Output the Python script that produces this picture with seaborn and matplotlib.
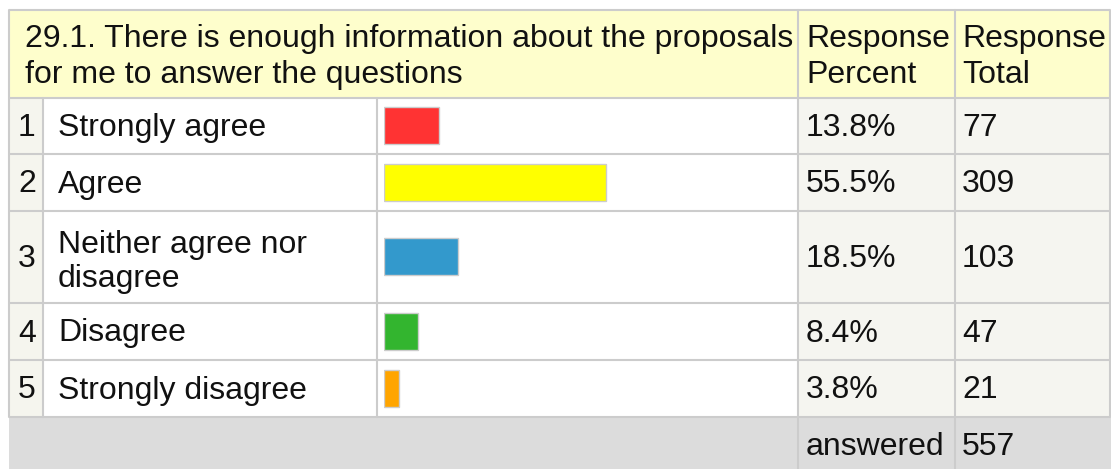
import matplotlib
matplotlib.use("Agg")
import matplotlib.pyplot as plt
from matplotlib.patches import Rectangle
import seaborn as sns
import pandas as pd

# ---------------- data ----------------
question_lines = ["29.1. There is enough information about the proposals",
                  "for me to answer the questions"]
percent_header = ["Response", "Percent"]
total_header = ["Response", "Total"]
row_numbers = ["1", "2", "3", "4", "5"]
categories = ["Strongly agree", "Agree", "Neither agree nor disagree",
              "Disagree", "Strongly disagree"]
label_lines = [["Strongly agree"], ["Agree"], ["Neither agree nor", "disagree"],
               ["Disagree"], ["Strongly disagree"]]
response_percent = [13.8, 55.5, 18.5, 8.4, 3.8]
response_total = [77, 309, 103, 47, 21]
answered_label = "answered"
answered_total = 557
bar_colors = ["#ff3333", "#ffff00", "#3399cc", "#33b52f", "#ffa500"]

# ---------------- layout (pixels) ----------------
W, H = 1111, 469
X_LEFT, X_NUM, X_LAB, X_PCT, X_TOT, X_RIGHT = 9, 43, 377, 798, 955, 1110
Y_EDGES = [10, 98, 154, 211, 303, 360, 417, 473]
BAR_X0, BAR_SPAN = 384, 400   # 0..100 %
LINE_C = "#cccccc"
LW = 1.5
TXT_C = "#111111"
FS = 23

sns.set_style("white")
plt.rcParams["font.family"] = ["Liberation Sans", "DejaVu Sans"]

fig = plt.figure(figsize=(W / 100, H / 100), dpi=100)
ax = fig.add_axes([0, 0, 1, 1])
ax.set_xlim(0, W)
ax.set_ylim(H, 0)
ax.axis("off")

def rect(x0, y0, x1, y1, color):
    ax.add_patch(Rectangle((x0, y0), x1 - x0, y1 - y0, facecolor=color,
                           edgecolor="none", zorder=0))

# backgrounds
rect(X_LEFT, Y_EDGES[0], X_RIGHT, Y_EDGES[1], "#fefecc")
for i in range(len(categories)):
    y0, y1 = Y_EDGES[i + 1], Y_EDGES[i + 2]
    rect(X_LEFT, y0, X_NUM, y1, "#f5f5ee")
    rect(X_NUM, y0, X_PCT, y1, "#ffffff")
    rect(X_PCT, y0, X_RIGHT, y1, "#f5f5f0")
rect(X_LEFT, Y_EDGES[6], W, H, "#dcdcdc")

# grid lines
for y in Y_EDGES[:7]:
    ax.plot([X_LEFT, X_RIGHT], [y, y], color=LINE_C, lw=LW, zorder=1,
            solid_capstyle="butt")
ax.plot([X_LEFT, X_LEFT], [Y_EDGES[0], Y_EDGES[6]], color=LINE_C, lw=LW, zorder=1)
ax.plot([X_RIGHT, X_RIGHT], [Y_EDGES[0], Y_EDGES[6]], color=LINE_C, lw=LW, zorder=1)
for x in (X_NUM, X_LAB):
    ax.plot([x, x], [Y_EDGES[1], Y_EDGES[6]], color=LINE_C, lw=LW, zorder=1)
for x in (X_PCT, X_TOT):
    ax.plot([x, x], [Y_EDGES[0], H], color=LINE_C, lw=LW, zorder=1)

def txt(x, y, s, ha="left"):
    ax.text(x, y, s, fontsize=FS, color=TXT_C, ha=ha, va="baseline", zorder=3)

# header
txt(25, 47, question_lines[0])
txt(25, 83, question_lines[1])
txt(806, 47, percent_header[0])
txt(806, 83, percent_header[1])
txt(962, 47, total_header[0])
txt(962, 83, total_header[1])

# rows
row_centers = [(Y_EDGES[i + 1] + Y_EDGES[i + 2]) / 2 for i in range(len(categories))]
for i, yc in enumerate(row_centers):
    base = yc + 10
    txt(27, base, row_numbers[i], ha="center")
    lines = label_lines[i]
    if len(lines) == 1:
        txt(58, base, lines[0])
    else:
        txt(58, yc - 4, lines[0])
        txt(58, yc + 30, lines[1])
    txt(806, base, f"{response_percent[i]:.1f}%")
    txt(962, base, str(response_total[i]))

# footer
txt(806, 455, answered_label)
txt(962, 455, str(answered_total))

# bars via seaborn
bax = fig.add_axes([BAR_X0 / W, (H - Y_EDGES[6]) / H, BAR_SPAN / W,
                    (Y_EDGES[6] - Y_EDGES[1]) / H])
df = pd.DataFrame({"category": categories, "percent": response_percent,
                   "ycenter": row_centers})
sns.barplot(data=df, x="percent", y="ycenter", hue="category",
            hue_order=categories, palette=dict(zip(categories, bar_colors)),
            orient="h", native_scale=True, dodge=False, width=37 / 56.5,
            saturation=1, legend=False, edgecolor="#cccccc", linewidth=1,
            ax=bax)
bax.set_xlim(0, 100)
bax.set_ylim(Y_EDGES[6], Y_EDGES[1])
bax.axis("off")
bax.patch.set_alpha(0)

fig.savefig("out.png", dpi=100)
